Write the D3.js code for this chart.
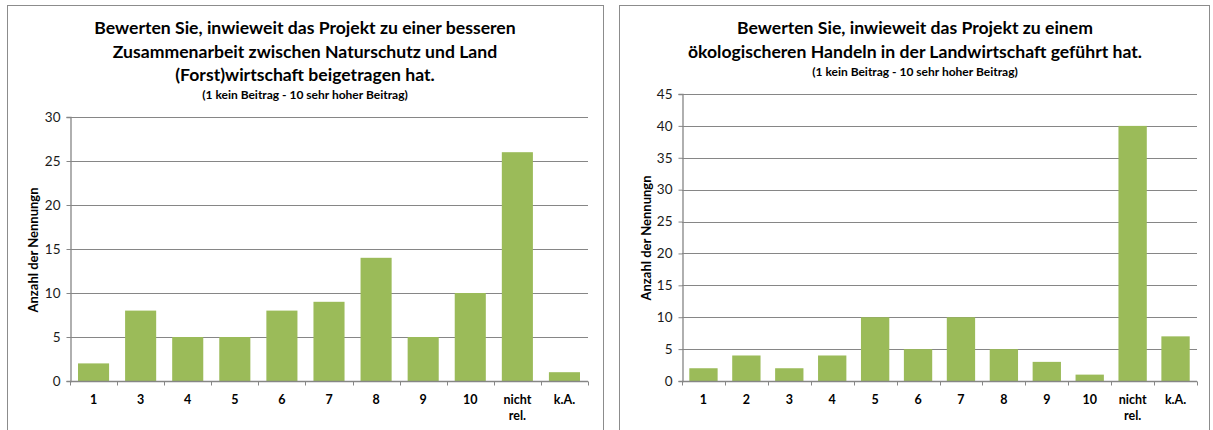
<!DOCTYPE html>
<html>
<head>
<meta charset="utf-8">
<script src="https://cdn.jsdelivr.net/npm/d3@7"></script>
<style>
  html, body { margin: 0; padding: 0; background: #fff; }
  svg { display: block; }
  text { font-family: Lato, "Open Sans", sans-serif; }
</style>
</head>
<body>
<svg id="chart" width="1213" height="430"></svg>
<script>
// Bewertung 1: Zusammenarbeit Naturschutz und Land(Forst)wirtschaft
const catsA = ["1", "3", "4", "5", "6", "7", "8", "9", "10", "nicht rel.", "k.A."];
const valsA = [2, 8, 5, 5, 8, 9, 14, 5, 10, 26, 1];
const ticksA = [0, 5, 10, 15, 20, 25, 30];
const titleA = [
  "Bewerten Sie, inwieweit das Projekt zu einer besseren",
  "Zusammenarbeit zwischen Naturschutz und Land",
  "(Forst)wirtschaft beigetragen hat."
];

// Bewertung 2: ökologischeres Handeln in der Landwirtschaft
const catsB = ["1", "2", "3", "4", "5", "6", "7", "8", "9", "10", "nicht rel.", "k.A."];
const valsB = [2, 4, 2, 4, 10, 5, 10, 5, 3, 1, 40, 7];
const ticksB = [0, 5, 10, 15, 20, 25, 30, 35, 40, 45];
const titleB = [
  "Bewerten Sie, inwieweit das Projekt zu einem",
  "ökologischeren Handeln in der Landwirtschaft geführt hat."
];

const subtitle = "(1 kein Beitrag - 10 sehr hoher Beitrag)";
const yTitle = "Anzahl der Nennungn";

const svg = d3.select("#chart");
const BAR = "#9BBB59";
const GRID = "#868686";
const TXT = "#000";

function panel(cfg) {
  const g = svg.append("g");
  // frame
  g.append("rect")
    .attr("x", cfg.frame[0] + 0.5).attr("y", cfg.frame[1] + 0.5)
    .attr("width", cfg.frame[2]).attr("height", cfg.frame[3])
    .attr("fill", "#fff").attr("stroke", "#8c8c8c").attr("stroke-width", 1);

  // titles
  cfg.title.forEach((line, i) => {
    g.append("text")
      .attr("x", cfg.cx).attr("y", cfg.titleY + i * 23.5)
      .attr("text-anchor", "middle")
      .attr("font-size", 17.6).attr("font-weight", "bold").attr("fill", TXT)
      .text(line);
  });
  g.append("text")
    .attr("x", cfg.cx).attr("y", cfg.subY)
    .attr("text-anchor", "middle")
    .attr("font-size", 12).attr("font-weight", "bold").attr("fill", TXT)
    .text(subtitle);

  const x = d3.scaleBand().domain(cfg.cats).range([cfg.x0, cfg.x1]).paddingInner(0.34).paddingOuter(0.17);
  const y = d3.scaleLinear().domain([0, cfg.ticks[cfg.ticks.length - 1]]).range([cfg.y0, cfg.y1]);

  // gridlines
  g.append("g").selectAll("line").data(cfg.ticks.slice(1)).join("line")
    .attr("x1", cfg.x0).attr("x2", cfg.x1)
    .attr("y1", d => Math.round(y(d)) + 0.5).attr("y2", d => Math.round(y(d)) + 0.5)
    .attr("stroke", GRID).attr("stroke-width", 1);

  // bars
  g.append("g").selectAll("rect").data(cfg.vals).join("rect")
    .attr("x", (d, i) => x(cfg.cats[i]))
    .attr("width", x.bandwidth())
    .attr("y", d => y(d))
    .attr("height", d => y(0) - y(d))
    .attr("fill", BAR);

  // y axis
  const ya = g.append("g").attr("transform", `translate(${cfg.x0 + 0.5},0)`)
    .call(d3.axisLeft(y).tickValues(cfg.ticks).tickSize(4).tickPadding(6));
  ya.select(".domain").attr("stroke", GRID).attr("stroke-width", 1.3);
  ya.selectAll(".tick line").attr("stroke", GRID);
  ya.selectAll(".tick text").attr("font-size", 13.5).attr("fill", "#1a1a1a")
    .style("font-family", "Lato, sans-serif");

  // x axis with tick marks between categories
  const xa = g.append("g").attr("transform", `translate(0,${cfg.y0 + 0.5})`);
  xa.append("line").attr("x1", cfg.x0).attr("x2", cfg.x1)
    .attr("stroke", GRID).attr("stroke-width", 1.3);
  const bounds = d3.range(cfg.cats.length + 1).map(i => cfg.x0 + i * (cfg.x1 - cfg.x0) / cfg.cats.length);
  xa.selectAll("line.tk").data(bounds).join("line").attr("class", "tk")
    .attr("x1", d => Math.round(d) + 0.5).attr("x2", d => Math.round(d) + 0.5)
    .attr("y1", 0).attr("y2", 4).attr("stroke", GRID);
  const lab = xa.selectAll("text").data(cfg.cats).join("text")
    .attr("x", d => x(d) + x.bandwidth() / 2)
    .attr("y", 22)
    .attr("text-anchor", "middle")
    .attr("font-size", 12.5).attr("font-weight", "bold").attr("fill", TXT);
  lab.each(function (d) {
    const parts = d.split(" ");
    parts.forEach((p, i) => {
      d3.select(this).append("tspan").attr("x", x(d) + x.bandwidth() / 2)
        .attr("dy", i === 0 ? 0 : 16).text(p);
    });
  });

  // y axis title
  g.append("text")
    .attr("transform", `translate(${cfg.ytx},${cfg.yty}) rotate(-90)`)
    .attr("text-anchor", "middle")
    .attr("font-size", 13).attr("font-weight", "bold").attr("fill", TXT)
    .text(yTitle);
}

panel({
  frame: [7, 5, 596, 440],
  cx: 305, titleY: 34, subY: 99,
  title: titleA, cats: catsA, vals: valsA, ticks: ticksA,
  x0: 70, x1: 588, y0: 381, y1: 117,
  ytx: 38, yty: 250
});

panel({
  frame: [619, 5, 590, 440],
  cx: 915, titleY: 34, subY: 76,
  title: titleB, cats: catsB, vals: valsB, ticks: ticksB,
  x0: 682, x1: 1197, y0: 381, y1: 94,
  ytx: 651, yty: 238
});
</script>
</body>
</html>
